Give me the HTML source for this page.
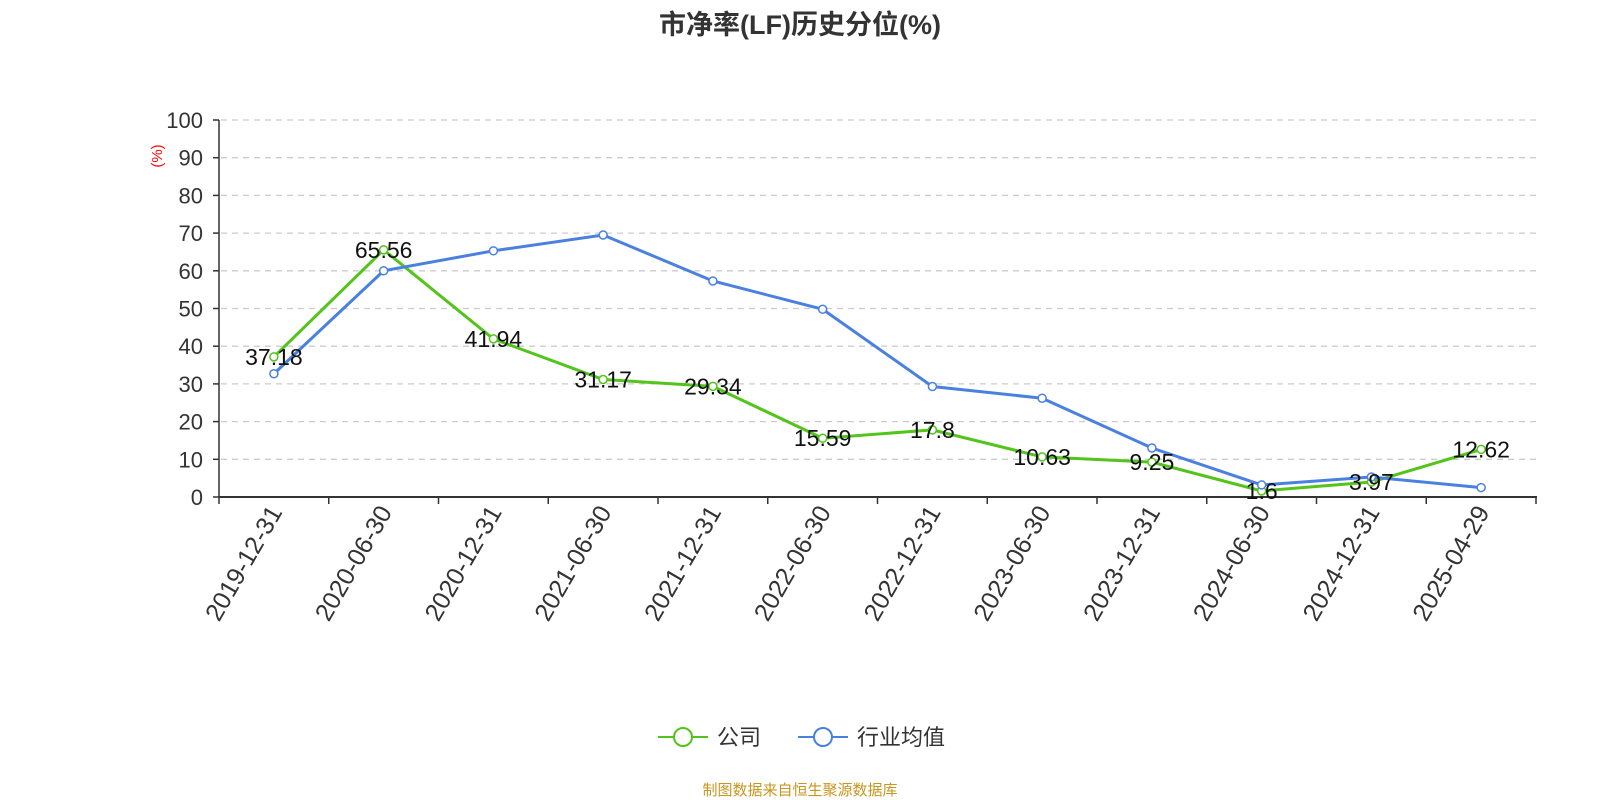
<!DOCTYPE html><html><head><meta charset="utf-8"><style>body{margin:0;background:#fff}svg{display:block}text{font-family:"Liberation Sans","Noto Sans CJK SC",sans-serif}</style></head><body>
<svg width="1600" height="800" xmlns="http://www.w3.org/2000/svg">
<text x="800" y="34" text-anchor="middle" font-size="27" font-weight="bold" fill="#333">市净率(LF)历史分位(%)</text>
<g id="grid" stroke="#ccc" stroke-dasharray="6,5" stroke-width="1.3"></g>
<g id="ylab" font-size="22" fill="#333" text-anchor="end"></g>
<text transform="translate(162,156) rotate(-90)" font-size="15" fill="red" text-anchor="middle">(%)</text>
<line x1="219" y1="120" x2="219" y2="497" stroke="#333" stroke-width="1.5"/>
<line x1="219" y1="497" x2="1537" y2="497" stroke="#333" stroke-width="2"/>
<g id="ticks" stroke="#333" stroke-width="1.5"></g>
<g id="xlab" font-size="25" fill="#333" text-anchor="end"></g>
<g id="series"></g>
<g transform="translate(0,737)">
<line x1="658" y1="0" x2="708" y2="0" stroke="#52c41a" stroke-width="2"/><circle cx="683" cy="0" r="9" fill="#fff" stroke="#52c41a" stroke-width="2"/>
<text x="717" y="8" font-size="22" fill="#333">公司</text>
<line x1="798" y1="0" x2="848" y2="0" stroke="#4a80e0" stroke-width="2"/><circle cx="823" cy="0" r="9" fill="#fff" stroke="#4a80e0" stroke-width="2"/>
<text x="857" y="8" font-size="22" fill="#333">行业均值</text>
</g>
<text x="800" y="795" text-anchor="middle" font-size="15" fill="#c8961e">制图数据来自恒生聚源数据库</text>
</svg>
<script>
const ns="http://www.w3.org/2000/svg";
function el(p,t,a,txt){const e=document.createElementNS(ns,t);for(const k in a)e.setAttribute(k,a[k]);if(txt!==undefined)e.textContent=txt;document.getElementById(p).appendChild(e);return e;}
const Y=v=>497-3.77*v, X=i=>219+54.9+i*109.75;
for(let v=0;v<=100;v+=10){if(v>0)el("grid","line",{x1:221,x2:1537,y1:Y(v),y2:Y(v)});el("ylab","text",{x:203,y:Y(v)+8},v);el("ticks","line",{x1:213,x2:219,y1:Y(v),y2:Y(v)});}
for(let i=0;i<=12;i++){const x=219+i*109.75;el("ticks","line",{x1:x,x2:x,y1:497,y2:504});}
const d=["2019-12-31","2020-06-30","2020-12-31","2021-06-30","2021-12-31","2022-06-30","2022-12-31","2023-06-30","2023-12-31","2024-06-30","2024-12-31","2025-04-29"];
d.forEach((s,i)=>el("xlab","text",{transform:`translate(${X(i)+9},${512}) rotate(-60)`},s));
const g=[37.18,65.56,41.94,31.17,29.34,15.59,17.8,10.63,9.25,1.6,3.97,12.62];
const b=[32.7,60,65.3,69.5,57.3,49.8,29.3,26.2,13,3.2,5.3,2.5];
el("series","polyline",{points:g.map((v,i)=>X(i)+","+Y(v)).join(" "),fill:"none",stroke:"#52c41a","stroke-width":3});
el("series","polyline",{points:b.map((v,i)=>X(i)+","+Y(v)).join(" "),fill:"none",stroke:"#4a80e0","stroke-width":3});
g.forEach((v,i)=>el("series","circle",{cx:X(i),cy:Y(v),r:4,fill:"#fff",stroke:"#52c41a","stroke-width":1.5}));
b.forEach((v,i)=>el("series","circle",{cx:X(i),cy:Y(v),r:4,fill:"#fff",stroke:"#4a80e0","stroke-width":1.5}));
const lab=["37.18","65.56","41.94","31.17","29.34","15.59","17.8","10.63","9.25","1.6","3.97","12.62"];
g.forEach((v,i)=>el("series","text",{x:X(i),y:Y(v)+8,"text-anchor":"middle","font-size":23,fill:"#111"},lab[i]));
</script>
</body></html>
